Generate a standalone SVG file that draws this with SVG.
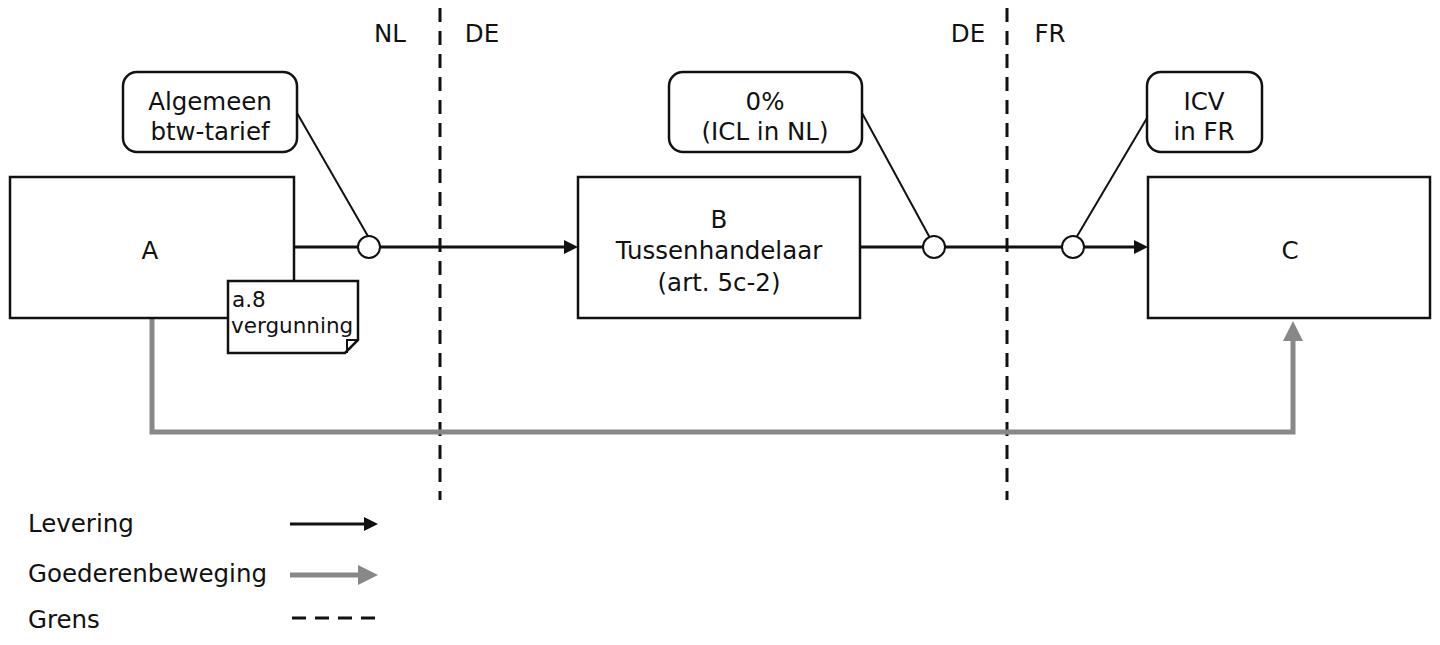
<svg xmlns="http://www.w3.org/2000/svg" width="1440" height="645" viewBox="0 0 1440 645">
<defs>
<style>
text{font-family:"DejaVu Sans","Liberation Sans",sans-serif;font-size:24.5px;fill:#111}
.c{text-anchor:middle}
.box{fill:#fff;stroke:#111;stroke-width:2.5}
.call{fill:#fff;stroke:#111;stroke-width:2.5}
.lead{stroke:#111;stroke-width:2;fill:none}
.flow{stroke:#111;stroke-width:3;fill:none}
.goods{stroke:#888;stroke-width:5;fill:none}
.border{stroke:#111;stroke-width:3;stroke-dasharray:14,9;fill:none}
.dot{fill:#fff;stroke:#111;stroke-width:2}
.small{font-size:21.5px}
</style>
<marker id="ah" markerWidth="14" markerHeight="14" refX="1" refY="7" orient="auto" markerUnits="userSpaceOnUse">
<path d="M0,0 L14,7 L0,14 Z" fill="#111"/>
</marker>
<marker id="gh" markerWidth="20" markerHeight="20" refX="1" refY="10" orient="auto" markerUnits="userSpaceOnUse">
<path d="M0,0 L20,10 L0,20 Z" fill="#888"/>
</marker>
</defs>

<g id="borders">
<line class="border" x1="440" y1="8" x2="440" y2="500"/>
<line class="border" x1="1007" y1="8" x2="1007" y2="500"/>
<text x="390" y="42" class="c">NL</text>
<text x="482" y="42" class="c">DE</text>
<text x="968" y="42" class="c">DE</text>
<text x="1050" y="42" class="c">FR</text>
</g>

<g id="connectors">
<path class="goods" d="M152,318 V432 H1293 V340" marker-end="url(#gh)"/>
<line class="flow" x1="294" y1="247" x2="565" y2="247" marker-end="url(#ah)"/>
<line class="flow" x1="860" y1="247" x2="1135" y2="247" marker-end="url(#ah)"/>
<line class="lead" x1="297" y1="113" x2="369" y2="238"/>
<line class="lead" x1="862" y1="113" x2="930" y2="238"/>
<line class="lead" x1="1147" y1="118" x2="1076" y2="238"/>
<circle class="dot" cx="369" cy="247" r="11"/>
<circle class="dot" cx="934" cy="247" r="11"/>
<circle class="dot" cx="1073" cy="247" r="11"/>
</g>

<g id="nodeA">
<rect class="box" x="10" y="177" width="284" height="141"/>
<text x="150" y="259" class="c">A</text>
</g>

<g id="noteA">
<path class="box" d="M228,281 H358 V340 L345,353 H228 Z"/>
<path class="lead" d="M358,340 H347 V353" stroke-width="1.5"/>
<text x="232" y="307" class="small">a.8</text>
<text x="231" y="333" class="small">vergunning</text>
</g>

<g id="nodeB">
<rect class="box" x="578" y="177" width="282" height="141"/>
<text x="719" y="228" class="c">B</text>
<text x="719" y="259" class="c">Tussenhandelaar</text>
<text x="719" y="291" class="c">(art. 5c-2)</text>
</g>

<g id="nodeC">
<rect class="box" x="1148" y="177" width="282" height="141"/>
<text x="1290" y="259" class="c">C</text>
</g>

<g id="callout1">
<rect class="call" x="123" y="72" width="174" height="80" rx="14"/>
<text x="210" y="110" class="c">Algemeen</text>
<text x="210" y="140" class="c">btw-tarief</text>
</g>

<g id="callout2">
<rect class="call" x="669" y="72" width="193" height="80" rx="14"/>
<text x="765" y="110" class="c">0%</text>
<text x="765" y="140" class="c">(ICL in NL)</text>
</g>

<g id="callout3">
<rect class="call" x="1147" y="72" width="115" height="80" rx="14"/>
<text x="1204" y="110" class="c">ICV</text>
<text x="1204" y="140" class="c">in FR</text>
</g>

<g id="legend">
<text x="28" y="532">Levering</text>
<line class="flow" x1="290" y1="524" x2="365" y2="524" marker-end="url(#ah)"/>
<text x="28" y="582">Goederenbeweging</text>
<line class="goods" x1="290" y1="575" x2="359" y2="575" marker-end="url(#gh)"/>
<text x="28" y="628">Grens</text>
<line class="border" x1="292" y1="618" x2="378" y2="618" stroke-dasharray="12,10"/>
</g>
</svg>
